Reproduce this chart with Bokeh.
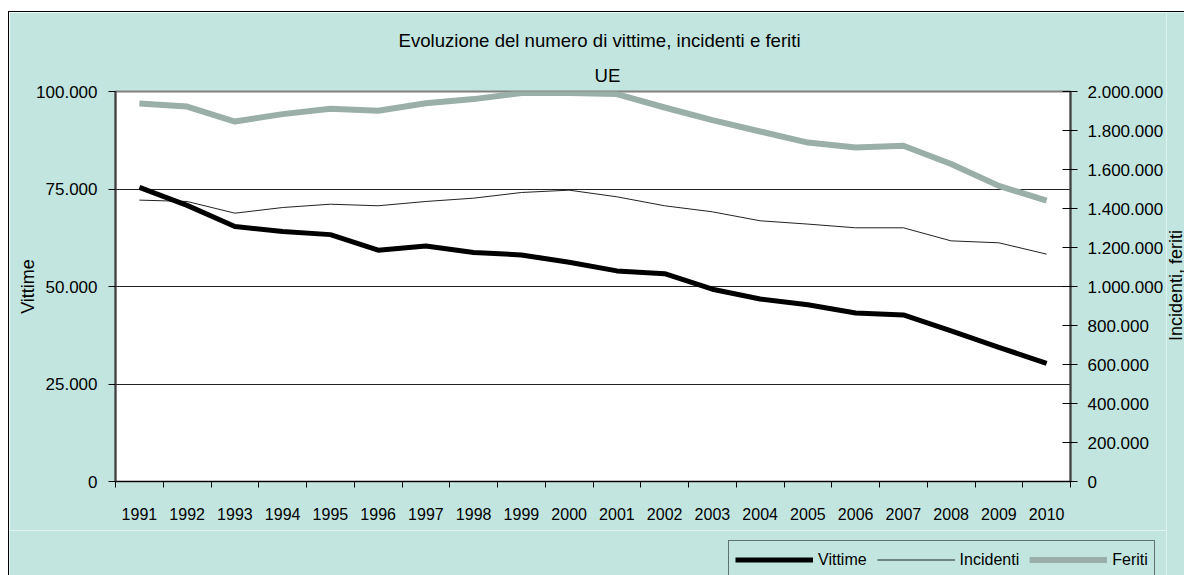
import math
from bokeh.plotting import figure
from bokeh.layouts import row, column
from bokeh.models import Range1d, LinearAxis, FixedTicker, Legend, LegendItem, Title, Label
from bokeh.embed import file_html
from bokeh.resources import INLINE

# ---- data ----
years = ["1991", "1992", "1993", "1994", "1995", "1996", "1997", "1998", "1999", "2000",
         "2001", "2002", "2003", "2004", "2005", "2006", "2007", "2008", "2009", "2010"]
vittime = [75400, 70800, 65400, 64100, 63300, 59300, 60400, 58700, 58100, 56200,
           54000, 53300, 49300, 46800, 45300, 43200, 42700, 38600, 34400, 30300]
incidenti = [1443000, 1436000, 1376000, 1405000, 1422000, 1414000, 1436000, 1453000, 1482000, 1494000,
             1460000, 1414000, 1383000, 1337000, 1320000, 1301000, 1301000, 1234000, 1224000, 1166000]
feriti = [1938000, 1923000, 1846000, 1884000, 1911000, 1901000, 1940000, 1961000, 1992000, 1992000,
          1987000, 1918000, 1853000, 1795000, 1738000, 1713000, 1722000, 1628000, 1516000, 1440000]
left_ticks = [0, 25000, 50000, 75000, 100000]
left_tick_labels = ["0", "25.000", "50.000", "75.000", "100.000"]
right_ticks = [0, 200000, 400000, 600000, 800000, 1000000, 1200000, 1400000, 1600000, 1800000, 2000000]
right_tick_labels = ["0", "200.000", "400.000", "600.000", "800.000", "1.000.000", "1.200.000",
                     "1.400.000", "1.600.000", "1.800.000", "2.000.000"]
series_names = ["Vittime", "Incidenti", "Feriti"]

BG = "#C2E6DF"
FONT = "Liberation Sans"
FS = "16px"
FS_TICK = "17px"
FS_LAB = "18px"
FS_TITLE = "18.6px"
C_V, C_I, C_F = "black", "#222222", "#9AAFA8"
W_V, W_I, W_F = 5, 1, 6

xs = list(range(1, len(years) + 1))

# ---------- main chart ----------
p = figure(width=1157, height=518, output_backend="svg", toolbar_location=None,
           x_range=Range1d(0.5, len(years) + 0.5), y_range=Range1d(0, 100000),
           min_border_left=106, min_border_right=96, min_border_top=79, min_border_bottom=49,
           background_fill_color="white", border_fill_color=BG,
           outline_line_color="#808080", outline_line_width=2)
p.extra_y_ranges = {"r": Range1d(0, 2000000)}

# titles (p.title is outermost)
p.title.text = "Evoluzione del numero di vittime, incidenti e feriti"
p.title.align = "left"
p.title.text_font = FONT
p.title.text_font_size = FS_TITLE
p.title.text_font_style = "normal"
p.title.text_color = "black"
p.title.offset = 283
p.title.standoff = 11
t2 = Title(text="UE", align="left",
           text_font=FONT, text_font_size=FS_TITLE, text_font_style="normal", text_color="black",
           offset=479, standoff=12)
p.add_layout(t2, "above")

# x axis
p.xaxis.ticker = FixedTicker(ticks=xs, minor_ticks=[x - 0.5 for x in xs] + [xs[-1] + 0.5])
p.xaxis.major_label_overrides = {x: y for x, y in zip(xs, years)}
p.xaxis.major_tick_out = 0
p.xaxis.major_tick_in = 0
p.xaxis.minor_tick_out = 6
p.xaxis.minor_tick_in = 0
p.xaxis.minor_tick_line_color = "black"
p.xaxis.axis_line_color = "black"
p.xaxis.major_label_standoff = 20
p.xaxis.major_label_text_font = FONT
p.xaxis.major_label_text_font_size = FS
p.xaxis.major_label_text_color = "black"
p.xgrid.visible = False

# left axis
p.yaxis.ticker = FixedTicker(ticks=left_ticks)
p.yaxis.major_label_overrides = {t: l for t, l in zip(left_ticks, left_tick_labels)}
p.yaxis.major_tick_out = 7
p.yaxis.major_tick_in = 0
p.yaxis.minor_tick_out = 0
p.yaxis.minor_tick_in = 0
p.yaxis.major_tick_line_color = "black"
p.yaxis.axis_line_color = "#404040"
p.yaxis.axis_line_width = 2
p.yaxis.major_label_standoff = 11
p.yaxis.major_label_text_font = FONT
p.yaxis.major_label_text_font_size = FS_TICK
p.yaxis.major_label_text_color = "black"
p.yaxis.axis_label = "Vittime"
p.yaxis.axis_label_text_font = FONT
p.yaxis.axis_label_text_font_size = FS_LAB
p.yaxis.axis_label_text_font_style = "normal"
p.yaxis.axis_label_text_color = "black"
p.yaxis.axis_label_standoff = -5

p.ygrid.ticker = FixedTicker(ticks=left_ticks[1:-1])
p.ygrid.grid_line_color = "#222222"
p.ygrid.grid_line_width = 1

# right axis (its title is drawn in the strip on the right)
ra = LinearAxis(y_range_name="r", ticker=FixedTicker(ticks=right_ticks),
                major_label_overrides={t: l for t, l in zip(right_ticks, right_tick_labels)},
                major_tick_in=8, major_tick_out=7, minor_tick_in=0, minor_tick_out=0,
                major_tick_line_color="black", axis_line_color="#404040", axis_line_width=2,
                major_label_standoff=10, major_label_text_font=FONT, major_label_text_font_size=FS_TICK,
                major_label_text_color="black")
p.add_layout(ra, "right")

# lines
r_f = p.line(xs, feriti, y_range_name="r", line_color=C_F, line_width=W_F, line_join="round")
r_i = p.line(xs, incidenti, y_range_name="r", line_color=C_I, line_width=W_I)
r_v = p.line(xs, vittime, line_color=C_V, line_width=W_V, line_join="round")

# ---------- legend strip ----------
p2 = figure(width=1157, height=45, output_backend="svg", toolbar_location=None,
            x_range=Range1d(0, 1157), y_range=Range1d(0, 45),
            min_border_left=0, min_border_right=0, min_border_top=0, min_border_bottom=0,
            background_fill_color=BG, border_fill_color=BG, outline_line_color=None)
p2.axis.visible = False
p2.grid.visible = False
aligned = True
if "frame_align" in p2.properties():
    p2.frame_align = False
    p.frame_align = False
    aligned = False
# legend proxies: the series themselves, far outside this strip's range
l_v = p2.line(xs, vittime, line_color=C_V, line_width=W_V)
l_i = p2.line(xs, incidenti, line_color=C_I, line_width=W_I)
l_f = p2.line(xs, feriti, line_color=C_F, line_width=W_F)
legend = Legend(items=[LegendItem(label=n, renderers=[r]) for n, r in zip(series_names, [l_v, l_i, l_f])],
                orientation="horizontal", location=(613 if aligned else 719, -4),
                glyph_width=78, glyph_height=25, label_height=25, label_standoff=5, spacing=10,
                padding=6, margin=0,
                label_text_font=FONT, label_text_font_size=FS, label_text_color="black",
                background_fill_color=BG, background_fill_alpha=1,
                border_line_color="black", border_line_width=1)
p2.add_layout(legend, "center")

# ---------- right title strip ----------
p3 = figure(width=18, height=563, output_backend="svg", toolbar_location=None,
            x_range=Range1d(0, 18), y_range=Range1d(0, 563),
            min_border_left=0, min_border_right=0, min_border_top=0, min_border_bottom=0,
            background_fill_color=BG, border_fill_color=BG, outline_line_color=None)
p3.axis.visible = False
p3.grid.visible = False
if "frame_align" in p3.properties():
    p3.frame_align = False
p3.add_layout(Label(x=9, y=290, text="Incidenti, feriti", angle=math.pi / 2,
                    text_align="center", text_baseline="middle",
                    text_font=FONT, text_font_size=FS_LAB, text_color="black"))

layout = row(column(p, p2), p3,
             styles={"margin-left": "8px", "margin-top": "11px",
                     "border-top": "1px solid black", "border-left": "1px solid black"})

open("out.html", "w").write(file_html(layout, INLINE))
